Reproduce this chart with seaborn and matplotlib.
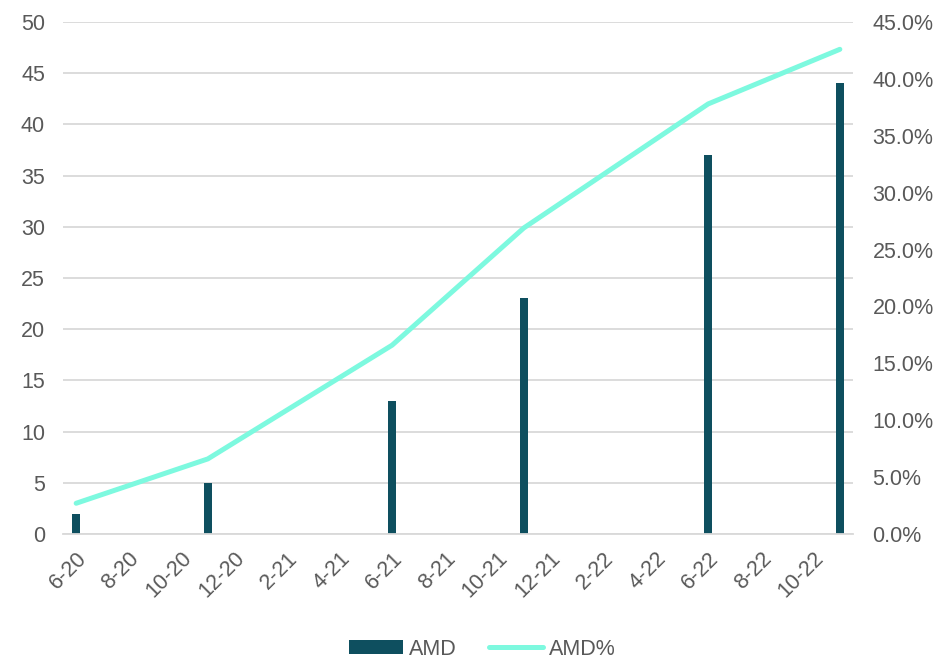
import numpy as np
import pandas as pd
import matplotlib
matplotlib.use("Agg")
import matplotlib.pyplot as plt
import seaborn as sns
from matplotlib.ticker import FuncFormatter

# data
dates = ["2020-06", "2020-11", "2021-06", "2021-11", "2022-06", "2022-11"]
amd = [2, 5, 13, 23, 37, 44]
amd_pct = [2.7, 6.6, 16.6, 26.9, 37.8, 42.6]

start = pd.Period("2020-06", freq="M")
end = pd.Period("2022-11", freq="M")

df = pd.DataFrame({"date": pd.PeriodIndex(dates, freq="M"), "AMD": amd, "AMD%": amd_pct})
# month slot centre on a date axis
df["x"] = [(d - start).n + 0.5 for d in df["date"]]

n_months = (end - start).n + 1
all_months = pd.period_range(start, end, freq="M")
tick_labels = [f"{p.month}-{p.year % 100}" for p in all_months[::2]]

sns.set_style("white")
plt.rcParams["font.family"] = ["Liberation Sans", "DejaVu Sans"]
text_col = "#595959"
grid_col = "#D9D9D9"
bar_col = "#0E4F5F"
line_col = "#7DF9DF"
fs = 15.5

fig = plt.figure(figsize=(9.46, 6.59), dpi=100)
ax = fig.add_axes([0.0666, 0.1897, 0.8351, 0.7769])

# native_scale: width is relative to smallest gap between bars (5 months)
sns.barplot(data=df, x="x", y="AMD", native_scale=True, width=0.32 / 5,
            color=bar_col, saturation=1, linewidth=0, ax=ax, zorder=2)

ax.set_xlim(0, n_months)
ax.set_ylim(0, 50)
ax.set_yticks(np.arange(0, 51, 5))
ax.yaxis.grid(True, color=grid_col, lw=1.3)
ax.set_axisbelow(True)
for s in ["top", "left", "right"]:
    ax.spines[s].set_visible(False)
ax.spines["bottom"].set_color(grid_col)
ax.spines["bottom"].set_linewidth(1.3)

ax.set_xticks(np.arange(0, n_months + 1, 2))
ax.set_xticklabels([])
ax.tick_params(axis="x", which="major", length=6, color=grid_col, width=1.3)
ax.set_xticks(np.arange(0.5, n_months, 2), minor=True)
ax.set_xticklabels(tick_labels, minor=True, rotation=45, ha="right",
                   rotation_mode="anchor", fontsize=fs, color=text_col)
ax.tick_params(axis="x", which="minor", length=0, pad=10)
ax.tick_params(axis="y", length=0, pad=13, labelsize=fs, labelcolor=text_col)
ax.set_xlabel("")
ax.set_ylabel("")

ax2 = ax.twinx()
sns.lineplot(data=df, x="x", y="AMD%", color=line_col, lw=3.6, ax=ax2,
             solid_capstyle="round", legend=False)
ax2.set_ylim(0, 45)
ax2.set_yticks(np.arange(0, 46, 5))
ax2.yaxis.set_major_formatter(FuncFormatter(lambda v, _: f"{v:.1f}%"))
ax2.tick_params(axis="y", length=0, pad=14, labelsize=fs, labelcolor=text_col)
ax2.set_ylabel("")
for s in ["top", "left", "right", "bottom"]:
    ax2.spines[s].set_visible(False)
ax2.set_xlim(0, n_months)

handles = [ax.patches[0], ax2.lines[0]]
leg = fig.legend(handles, ["AMD", "AMD%"], loc="center", bbox_to_anchor=(0.51, 0.015),
                 ncol=2, frameon=False, fontsize=fs, handlelength=2.5, handleheight=0.6,
                 columnspacing=1.5, handletextpad=0.3)
for t in leg.get_texts():
    t.set_color(text_col)

fig.savefig("out.png", dpi=100)
